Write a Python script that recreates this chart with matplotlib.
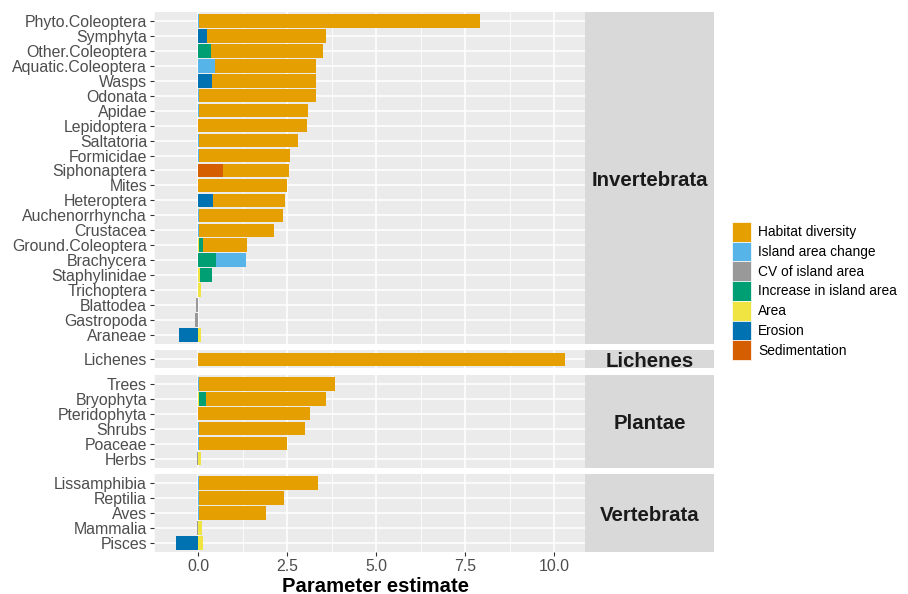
import matplotlib.pyplot as plt
from matplotlib.patches import Patch
import numpy as np

plt.rcParams['font.family'] = ['Liberation Sans', 'DejaVu Sans']

# taxa per facet, top to bottom
invertebrata = ['Phyto.Coleoptera', 'Symphyta', 'Other.Coleoptera', 'Aquatic.Coleoptera',
                'Wasps', 'Odonata', 'Apidae', 'Lepidoptera', 'Saltatoria', 'Formicidae',
                'Siphonaptera', 'Mites', 'Heteroptera', 'Auchenorrhyncha', 'Crustacea',
                'Ground.Coleoptera', 'Brachycera', 'Staphylinidae', 'Trichoptera',
                'Blattodea', 'Gastropoda', 'Araneae']
lichenes = ['Lichenes']
plantae = ['Trees', 'Bryophyta', 'Pteridophyta', 'Shrubs', 'Poaceae', 'Herbs']
vertebrata = ['Lissamphibia', 'Reptilia', 'Aves', 'Mammalia', 'Pisces']

groups = ['Invertebrata', 'Lichenes', 'Plantae', 'Vertebrata']
group_taxa = [invertebrata, lichenes, plantae, vertebrata]
taxa = invertebrata + lichenes + plantae + vertebrata

# parameter estimates, same order as taxa
habitat_diversity = [7.89, 3.32, 3.15, 2.86, 2.90, 3.27, 3.07, 3.04, 2.77, 2.54,
                     1.83, 2.48, 2.01, 2.35, 2.10, 1.22, 0, 0, 0, 0, 0, 0,
                     10.31,
                     3.82, 3.37, 3.12, 2.96, 2.46, 0,
                     3.35, 2.38, 1.87, 0, 0]
island_area_change = [0.02, 0, 0, 0.45, 0, 0.02, 0.02, 0, 0.02, 0.02,
                      0, 0, 0, 0.02, 0.02, 0, 0.84, 0, 0, 0, 0, 0,
                      0,
                      0.02, 0, 0, 0.02, 0.02, 0,
                      0.02, 0.02, 0.02, 0, 0]
cv_island_area = [0, 0, 0, 0, 0, 0, 0, 0, 0, 0,
                  0, 0, 0, 0, 0, 0, 0, 0, -0.02, -0.06, -0.09, 0,
                  0,
                  0, 0, 0, 0, 0, -0.05,
                  0, 0, 0, -0.05, 0]
increase_island_area = [0, 0, 0.36, 0, 0, 0, 0, 0, 0, 0,
                        0, 0, 0, 0, 0, 0.12, 0.50, 0.35, 0, 0, 0, 0,
                        0,
                        0, 0.18, 0, 0, 0, 0,
                        0, 0, 0, 0, 0]
area = [0, 0, 0, 0, 0, 0, 0, 0, 0, 0,
        0, 0, 0, 0, 0, 0.02, 0, 0.03, 0.07, 0, 0, 0.07,
        0,
        0, 0.02, 0, 0, 0, 0.07,
        0, 0, 0, 0.10, 0.14]
erosion = [0, 0.25, 0, 0, 0.39, 0, 0, 0, 0, 0,
           0, 0, 0.41, 0, 0, 0, 0, 0, 0, 0, 0, -0.56,
           0,
           0, 0, 0, 0, 0, 0,
           0, 0, 0, 0, -0.64]
sedimentation = [0, 0, 0, 0, 0, 0, 0, 0, 0, 0,
                 0.70, 0, 0, 0, 0, 0, 0, 0, 0, 0, 0, 0,
                 0,
                 0, 0, 0, 0, 0, 0,
                 0, 0, 0, 0, 0]

predictors = ['Habitat diversity', 'Island area change', 'CV of island area',
              'Increase in island area', 'Area', 'Erosion', 'Sedimentation']
values = [habitat_diversity, island_area_change, cv_island_area,
          increase_island_area, area, erosion, sedimentation]
colors = ['#E69F00', '#56B4E9', '#999999', '#009E73', '#F0E442', '#0072B2', '#D55E00']

W, H = 908, 594
fig = plt.figure(figsize=(W / 100, H / 100), dpi=100)

# layout in pixels
left, right, strip_right = 154, 585, 714
unit = 14.95
pad = 1.5
gap = 6.5
top = 12
xlim = (-1.19, 10.86)

tick_color = '#4D4D4D'
start = 0
for g, (name, names) in enumerate(zip(groups, group_taxa)):
    n = len(names)
    h = n * unit + 2 * pad
    ax = fig.add_axes([left / W, 1 - (top + h) / H, (right - left) / W, h / H])
    ax.set_facecolor('#EBEBEB')
    for s in ax.spines.values():
        s.set_visible(False)

    ypos = np.arange(n)
    pos_base = np.zeros(n)
    neg_base = np.zeros(n)
    # ggplot stacks the last factor level closest to zero
    for vals, col in zip(values[::-1], colors[::-1]):
        v = np.array(vals[start:start + n])
        pos = np.where(v > 0, v, 0)
        neg = np.where(v < 0, v, 0)
        ax.barh(ypos, pos, left=pos_base, height=0.9, color=col, linewidth=0, zorder=3)
        ax.barh(ypos, neg, left=neg_base, height=0.9, color=col, linewidth=0, zorder=3)
        pos_base += pos
        neg_base += neg

    ax.set_xlim(*xlim)
    ax.set_ylim(n - 0.5 + pad / unit, -0.5 - pad / unit)
    ax.set_xticks([0, 2.5, 5, 7.5, 10])
    ax.set_xticks([-1.25, 1.25, 3.75, 6.25, 8.75], minor=True)
    ax.set_yticks(ypos)
    ax.set_yticklabels(names)
    ax.grid(which='major', color='white', linewidth=1.1, zorder=1)
    ax.grid(which='minor', axis='x', color='white', linewidth=0.55, zorder=1)
    ax.set_axisbelow(True)
    ax.tick_params(axis='y', length=3, width=0.8, color='#333333', labelsize=11.4,
                   labelcolor=tick_color, pad=2)
    ax.tick_params(axis='x', which='minor', length=0)
    if g == len(groups) - 1:
        ax.set_xticklabels(['0.0', '2.5', '5.0', '7.5', '10.0'])
        ax.tick_params(axis='x', which='major', length=3, width=0.8, color='#333333',
                       labelsize=11.4, labelcolor=tick_color, pad=2)
    else:
        ax.tick_params(axis='x', which='major', length=0, labelbottom=False)

    # facet strip on the right
    sax = fig.add_axes([right / W, 1 - (top + h) / H, (strip_right - right) / W, h / H])
    sax.set_facecolor('#D9D9D9')
    sax.set_xticks([])
    sax.set_yticks([])
    for s in sax.spines.values():
        s.set_visible(False)
    sax.text(0.5, 0.5 - 2.5 / h, name, ha='center', va='center', fontsize=14.7,
             fontweight='bold', color='#1A1A1A', transform=sax.transAxes)

    top += h + gap
    start += n

fig.text(376 / W, 1 - 586 / H, 'Parameter estimate', ha='center', va='center',
         fontsize=14.6, fontweight='bold', color='black')

handles = [Patch(facecolor=c, edgecolor='white', linewidth=0.5) for c in colors]
fig.legend(handles, predictors, loc='upper left',
           bbox_to_anchor=(732 / W, 1 - 222 / H), frameon=False, fontsize=9.9,
           handlelength=1.4, handleheight=1.83, labelspacing=0.0,
           handletextpad=0.5, borderpad=0, borderaxespad=0)

fig.savefig('out.png', dpi=100)
